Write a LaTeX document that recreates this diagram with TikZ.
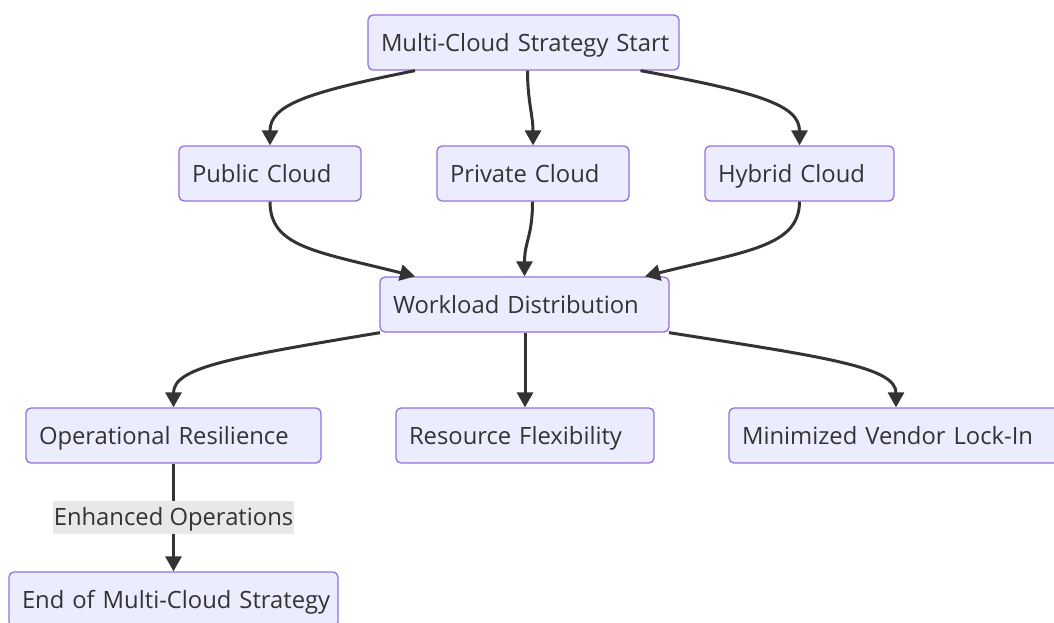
\documentclass[tikz,border=0pt]{standalone}
\usepackage{fontspec}
\setmainfont{Open Sans}
\usepackage{xcolor}
\usepackage{tikz}
\usetikzlibrary{positioning,arrows.meta,shapes.geometric}

\definecolor{boxfill}{HTML}{ECECFF}
\definecolor{boxline}{HTML}{9370DB}
\definecolor{ink}{HTML}{333333}
\definecolor{labelbg}{HTML}{E8E8E8}

\begin{document}
\begin{tikzpicture}[x=1pt,y=-1pt,>={Triangle[length=15pt,width=16pt]},
    box/.style={draw=boxline, fill=boxfill, line width=1.3pt, rounded corners=5pt,
      minimum height=55pt, inner xsep=13pt, inner ysep=0pt, align=left,
      text height=19pt, text depth=1pt,
      execute at begin node=\hbox\bgroup, execute at end node=\egroup,
      text=ink, font=\fontsize{23.8}{28}\selectfont},
    flow/.style={->, draw=ink, line width=3pt},
    tag/.style={fill=labelbg, text=ink, inner xsep=1pt, inner ysep=0pt, minimum height=33pt,
      text height=19pt, text depth=3pt, font=\fontsize{23.8}{28}\selectfont}]

    \useasboundingbox (0,0) rectangle (1054,623);

    \node[box, text width=285pt] (S) at (523.5,42.5) {Multi-Cloud Strategy Start};

    \node[box, text width=156pt] (P) at (270,173.5) {Public Cloud};
    \node[box, text width=166pt] (Q) at (533,173.5) {Private Cloud};
    \node[box, text width=163pt] (H) at (799.5,173.5) {Hybrid Cloud};

    \node[box, text width=263pt] (W) at (524.5,304.5) {Workload Distribution};

    \node[box, text width=269pt] (R) at (173.5,435.5) {Operational Resilience};
    \node[box, text width=232pt] (F) at (525,435.5) {Resource Flexibility};
    \node[box, text width=308pt] (V) at (896,435.5) {Minimized Vendor Lock-In};

    \node[box, text width=303pt] (E) at (173.5,599.5) {End of Multi-Cloud Strategy};

    % start to the three cloud kinds
    \draw[flow] ([xshift=-108.5pt]S.south) .. controls +(-110,22) and +(0,-40) .. (P.north);
    \draw[flow] ([xshift=4pt]S.south) .. controls +(0,30) and +(0,-30) .. (Q.north);
    \draw[flow] ([xshift=117pt]S.south) .. controls +(120,22) and +(0,-40) .. (H.north);

    % clouds into workload distribution
    \draw[flow] (P.south) .. controls +(0,45) and +(-100,-25) .. ([xshift=-109.5pt]W.north);
    \draw[flow] ([xshift=-0.5pt]Q.south) .. controls +(0,35) and +(0,-35) .. (W.north);
    \draw[flow] (H.south) .. controls +(0,45) and +(100,-25) .. ([xshift=120.5pt]W.north);

    % workload distribution to the outcomes
    \draw[flow] ([xshift=-144.5pt]W.south) .. controls +(-150,25) and +(0,-40) .. (R.north);
    \draw[flow] ([xshift=0.5pt]W.south) -- (F.north);
    \draw[flow] ([xshift=144.5pt]W.south) .. controls +(160,25) and +(0,-40) .. (V.north);

    \draw[flow] (R.south) -- (E.north)
      node[tag, pos=0.5] (L) {Enhanced Operations};
\end{tikzpicture}
\end{document}
